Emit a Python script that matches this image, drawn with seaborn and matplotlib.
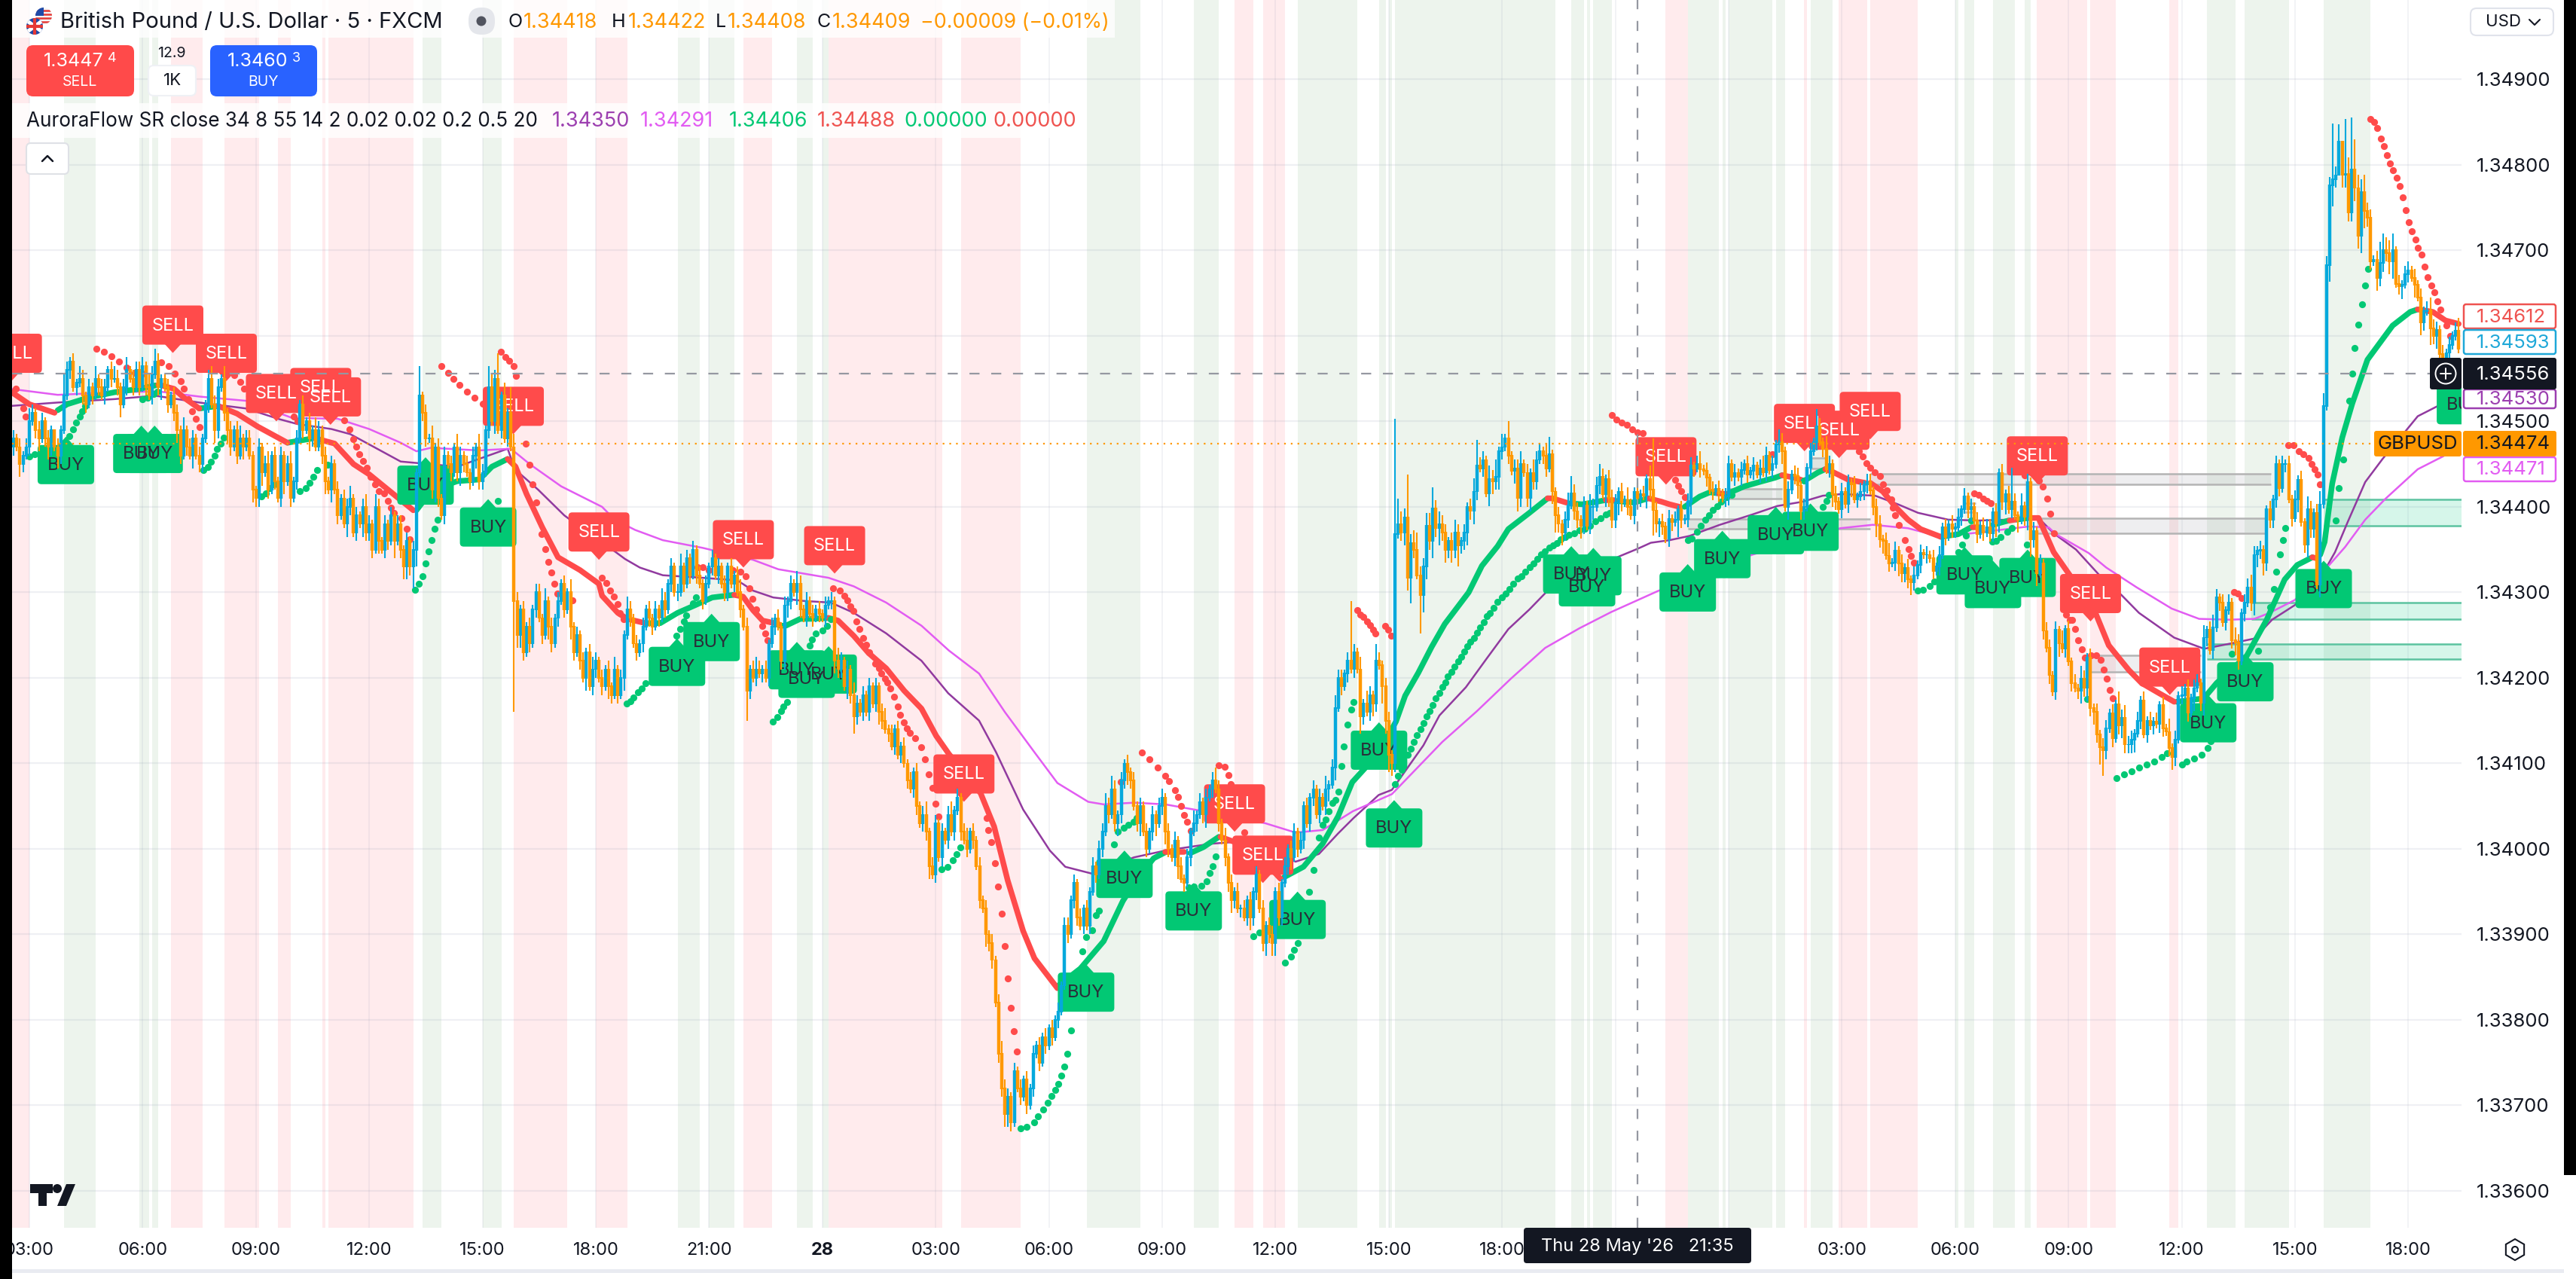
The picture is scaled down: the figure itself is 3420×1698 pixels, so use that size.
import numpy as np
import pandas as pd
import matplotlib
matplotlib.use("Agg")
import matplotlib.pyplot as plt
import seaborn as sns
from matplotlib.patches import FancyBboxPatch, Polygon, Circle, Rectangle, RegularPolygon
from matplotlib.transforms import IdentityTransform

# GBPUSD 5-minute session: prices are in pips above 1.30000, x positions in bars from 03:00 on the 27th.
CLOSE_ROWS = [
 [448,447,445,446,447],
 [450,451,449,448,450,448,447,449,447,446,449,453,456,457,454,454.5,455,453,452,454,453,455,454,453,454,456,455,455,454,452,454,456,455,454,456,454],
 [456.5,454,453,455.5,457,454,455,454,452,453,451,449,446,449,447,446,448,446,445,448,452,455,452,449,454,455,451,449,447,449,446,448,447,448,446,442],
 [441,447,444,445,442,446,443,441,446,443,445,441,443,448,452,449,450,448,449,447,449,446,443,442,445,442,439,441,438,440,441,437,439,438,440,437],
 [438,435,440,436,435,438,436,439,436,438,435,433,436,433,435,444,453,451,448,448,442,447,441,439,446,445,444,447,444,446,445,444,443,446,447,443],
 [444,449,454,450,455,449,453,448,451,447,429,425,428,423,426,424,428,430,427,425,429,426,424,427,429,431,428,430,426,423,425,422,420,423,419,421],
 [422,420,419,421,419,418,421,418,420,425,428,427,424,423,424,426,428,427,426,428,427,429,428,431,433,430,430,433,431,434,432,435,432,431,429,431],
 [433,434,432,433,431,430,433,431,432,430,428,426,418.5,421,420,421,420.5,421,420,424,426,427,426,422,428.5,429,431,430,431,428,427,429,427.5,427,428,427.5],
 [427,428.5,429,429,422,421,422,419,421,418,415.5,417,416,418,416,419,417,419,416,415,414,413.5,412,414,411,412,410,408,407,409,405,403,404,402,398,397],
 [403,399,402,401,404,402,404.5,406,402,401,400,402,401,398,394,393,390,389,387,382,376,372,369,371,368,374,372,371,373,370,372,376,377,375,378,377],
 [379,378,380,381,384,391,390,394,396,392,391,393,391,395,398,397,400,402,405,404,407,403,404,408,410,409,408,405,403,405,402,400,402,404,403,405],
 [406,402,400,399,401,398,396.5,396,399,402,403,404,405.5,404,406,407,408,407,403,401,399,396,394,395,393,393,392,394,392,395,397,393,389,391,390,389],
 [395,392,396,398,400,399,402,400,401,405,403,406,407,404,406,405,407,407.5,409.5,416.5,420,419,420.5,422,421,423,421,415.5,417,416,418,417,422,421.5,419,415],
 [411,410,436.8,438,437,438.8,431.7,435.8,435,432,429.7,433,437.8,436,439.8,437.5,438,437,435,436,435,437,435.5,436,437,440,439.5,441.8,444.8,444.5,445.5,441.6,443.3,443,443.5,446.5],
 [447,448,446,444.2,444.5,441,445,444,441,444,443,445.5,446.5,446,444.5,446.2,441.8,439,438,437,438.5,440.2,441.6,439.5,438.5,437.8,440.2,437.8,440,440,442.5,443.5,441.5,443.3,441,438.5],
 [440.5,441.8,440.5,440.8,440,439,441.8,441,441.5,441.3,443.3,442,439.6,438,438.2,437.7,436.3,438.6,438.2,438.5,439.7,438.5,438.6,440.6,444.8,444.5,445,444.4,444.2,443.4,442,441.8,442.1,441.6,441,441.2],
 [445,443.5,444,443.5,444.3,445,443.8,444.2,444.8,443.8,444.5,444,446,444.3,445,447.3,447.6,446.5,440,442,443.8,443.6,442.5,439.5,440,444.6,446.5,447.6,449.4,447.6,446.8,444.4,445,441.5,440.6,439.7],
 [441.8,440.3,442.8,442.6,440.9,441.2,441.8,442.6,442.9,441.9,440,438,436.2,436,434.3,433.4,433.5,434.9,433.4,432.2,432.9,431.5,431.2,432,433.2,434.6,434.4,434.4,434,432.5,433,434.4,437.6,436.5,438,437.4],
 [437.6,438.8,439.7,441.2,439.7,440,438.4,436.8,437.8,437,437.6,436.9,439.4,438,444,440.6,441.5,439.7,440.6,439,438.5,440.1,438.8,442.9,436.2,437.2,432.2,433.4,425.5,423.5,420.3,418.4,425.6,424,423.4,425.7],
 [421.9,419.4,418.8,418.5,419.9,418.8,422.4,416.5,416,413.4,411.9,411.5,414.1,415.9,412.9,416.9,414.4,415.3,412.2,412.2,412.8,413.5,415,417.4,413.4,415,414.4,414.9,414.6,416.8,414.1,413.7,411.8,410.7,412.8,417.9],
 [418,418.8,415.9,417.6,418.8,419.4,417.1,424.7,425.6,423.2,425.9,429.4,428.8,426.5,427.9,428.8,424.4,424.1,422,427.6,428.8,430.6,428.8,434.4,434.9,435,433.5,439.7,438.5,440.9,445,442.2,445,445,440.9,438.7],
 [440.9,443.2,438.2,435.6,439.7,437.4,439.3,430.9,440.3,451.8,468.3,477.6,478.3,478.8,482.7,478.8,478.9,474.4,479.5,477.3,471.7,476.8,474.6,473.8,468.7,468.9,466.8,468.5,470,469.7,468.7,470,466.1,465.8,466,467.2],
 [467.7,466.8,466,464.5,461.6,462.9,463,460.9,460,460.7,457.9,457.5,458,458.9,460,460.6,458.5],
]
# wick lengths per bar, one base-36 digit per bar, in half pips
WICK_UP = ["21212",
 "321221210215212132121312212321231222","213232112122131221211232213121231221",
 "121231212123121212132121212122312123","213212121221212171213121212132121213",
 "215326131632121212213121212131212123","212121312132121212121321212312121212",
 "121212121231212321212121212132121212","121213212132121212123121212121212312",
 "212123121231212121212322121212121212","121212212121212122323212121212121212",
 "212121212131212123213121212121212122","121212212121212131232212e21313214212",
 "21r632a23422335232212321212362213241","314122312132213411212342212132232122",
 "212132121213c21212121212212312121212","212121212123212132121221212142132121",
 "212121212212212312121212121212121212","121212121222121212821312121212212131",
 "212132121212212132322121212121213121","212122131232121213212232121121212121",
 "212132123322d240d4c73342212543341212","21212123221212123"]
WICK_DOWN = ["21321",
 "212312321321121212212121212123121212","121212312123212131221213212321213113",
 "223121212312121213211231312113212132","221312214123325412212321212123212132",
 "2121312121q3321212121321212132121312","212132121312121212212121212121212121",
 "121212212121721212121212232132121212","121232213242121212321212121212212231",
 "212121212121212132212233211212121212","121211212212121212121232232123121231",
 "232123121212123121212232121232212323","322123121212212123131212121421232143",
 "432123362194324242323252232321213323","212133212322122134232212232123121322",
 "232121212132623212214212321212121212","212121212121212123131232212121212321",
 "212312122123231212322232121212121212","212123121212232231213123423121212312",
 "121232323246212123222312121212212321","212131232121212123212123323222221212",
 "131232213114520332233442213222341231","21313214232112111"]

SHADE_SELL = [(-6,0),(45,55),(62,73),(79,83),(93,94),(95,122),(154,171),(180,190),(227,236),(254,290),(296,315),
              (383,389),(392,399),(520,527),(564,565),(575,584),(585,600),(638,654),(655,663),(680,683)]
SHADE_BUY = [(11,21),(35,38),(39,41),(125,131),(144,145),(145,150),(206,213),(216,224),(244,246),(246,249),(252,254),
             (336,347),(347,353),(370,378),(403,422),(429,431),(432,433),(434,485),(490,494),(495,496),(497,503),
             (527,537),(538,539),(540,554),(555,558),(566,573),(612,613),(615,618),(624,631),(634,636),(692,701),
             (704,718),(729,744)]

TREND_RED = [
 [(-6,453.5),(0,452),(8,451)],
 [(41,454.3),(46,453.8),(49,452.8),(54,451.5)],
 [(60,451.8),(66,450.9),(72.5,449.4),(82,447.5)],
 [(91,448),(97,447.4),(103,445),(108,443.8),(114,442),(122,439.6)],
 [(152,445.6),(154.5,444.7),(158,441.5),(163,437.6),(168,434.1),(175,432.6),(181,431),(182,429.6),(187,427.6),(190,426.9),(195.7,426.4)],
 [(224,429.7),(226.8,429.5),(230,427.9),(233,426.7),(238,426.3)],
 [(254,427),(257,426.7),(262,424.9),(266.7,422.9),(272.3,421.1),(278,418.5),(283.5,416.4),(288.2,413.2),(292.2,411.1),(302.3,406.5),(306.6,402.6),(310.9,396.3),(315.8,390.4),(319.4,387.2),(326.7,383.7)],
 [(361,399.6),(367,399.6)],
 [(378.5,401.4),(383,400.8),(390,399.5),(397.6,396.5)],
 [(482.5,441),(484,441),(488.4,440.5)],
 [(501,440.8),(503.5,440.8)],
 [(514.5,441),(518.7,440.6),(521.2,440.3),(524.4,440)],
 [(536.4,441.6),(539.1,441.5)],
 [(557,443.7),(561,443.4),(563.5,443.1)],
 [(570.7,444.4),(573,444.1),(577.9,443.2),(583.4,442.8)],
 [(585,442.8),(589,441.8),(593,440),(597,438.5),(601,437.4),(607.4,436.5)],
 [(617.5,437.6),(620,437.6)],
 [(629.3,438.4),(631,438.5)],
 [(636,438.7),(638.5,438.7),(643.3,434.7),(648.8,431.8),(656.8,427.4),(660.8,423.8),(667.2,420.9),(671.2,419.4),(676.8,418.2),(681.6,417.2)],
 [(725.5,434.1),(726.7,434)],
 [(759,463.1),(763.8,462.8),(767.8,461.8),(772,461.4)],
]
TREND_GREEN = [
 [(9,451.3),(12,452),(19,452.8),(27,453.4),(35,453.8),(40,454.2)],
 [(54,451.5),(60,451.8)],
 [(82,447.5),(90,448)],
 [(123,439.6),(128,442),(136,443),(143,443.2),(147,444.7),(152,445.6)],
 [(195.7,426.4),(200.5,426.4),(206,427.6),(211.6,428.5),(217,429.4),(223.6,429.7)],
 [(238.5,426.1),(240.4,426.1),(245,426.9),(248.3,426.9),(254,427)],
 [(327,384),(334,386),(341.4,389.2),(347.5,393.9),(352,396.5),(357.3,398.9),(361,399.6)],
 [(368.9,399.5),(373.1,400.2),(378,401.4)],
 [(398.8,396.7),(404.9,397.9),(411,400.6),(415.9,403.8),(420.4,407.8),(424.6,409.5),(430,412),(434.3,414.9),(437.2,417.9),(441.4,420.6),(445.6,423.6),(449.8,426.3),(457.4,430),(461.6,433.1),(466.6,435.4),(470,437.4),(476.7,439.3),(482.5,441)],
 [(489.3,440.4),(493.5,440.3),(496.8,440.5),(501,440.8)],
 [(503.8,440.7),(510,440.5),(514.5,441)],
 [(526,440),(530.8,441.2),(534,441.7),(536.4,441.6)],
 [(540,441.6),(545,442.4),(550.7,443),(554.7,443.4),(557,443.7)],
 [(564.3,443.1),(568.3,444),(570.7,444.4)],
 [(607.4,436.5),(613,436.8),(617,437.6)],
 [(624,437.9),(629,438.4)],
 [(631.4,438.5),(635.3,438.7)],
 [(682.4,417.2),(691,417.6),(695.1,419.4),(704.7,422.6),(711,426.8),(716.7,431.5),(720.7,433.2),(725.5,434.1)],
 [(728,434.4),(729.4,435.9),(731.8,442.7),(735,448.1),(738.2,452.1),(743,457.2),(751,461.2),(756.6,462.8),(759,463.1)],
]

EMA_SLOW = [(-6,451.8),(9,452.2),(27,452.6),(40,453),(54,452.2),(69,451.5),(79,450.3),(85,449.7),(96,449.1),(102,448.5),(118,445.3),(136,444.7),(152,446.8),(154.3,444.4),(161.7,442),(170,439),(181,436),(186,434.8),(189.3,433.9),(194,432.9),(201.3,432),(214,431.7),(225,431.4),(230,430.2),(236.4,429.4),(246,429),(254.7,428.8),(262,427.6),(272.3,425.2),(283.5,422),(292,418.2),(301.8,415),(307.2,411.3),(315.8,404.6),(324.3,399.8),(329.2,397.9),(337.7,397.1),(351,399),(361,399.8),(375.6,400.6),(383,400.8),(392,400),(402.4,398.5),(409.8,399.4),(415.9,401.8),(420.8,403.6),(428.8,406.3),(433,406.9),(443,412.1),(448.1,415.6),(456.5,418.9),(463.2,422.3),(470,425.7),(476.7,428),(482.5,430.2),(505.2,434.2),(511.1,435.1),(515.3,435.8),(521.2,436.1),(527.6,436.6),(537.2,437.9),(547.5,439.1),(555.5,440.1),(563.5,440.6),(569.9,441.3),(576,441.5),(586.6,441.3),(593.8,440.3),(600.2,439.3),(609.8,438.5),(619.4,438.4),(629,438.5),(638.5,438.7),(643.3,436.9),(650.4,435),(657.6,432.1),(664.8,429.7),(670.4,427.6),(681.6,424.7),(691.1,423.4),(700.7,424.1),(707.1,424.6),(712.7,426.8),(719.9,428.5),(727,431),(732.7,434.7),(736.7,438.2),(742.3,442.9),(747.8,445.6),(755,448.8),(759,450.6),(765.4,451.8),(772,453)]
EMA_TREND = [(-6,453.8),(9,453.1),(27,453.4),(41,453.5),(54,452.9),(69,452.4),(83.5,450.4),(98,450.3),(108,449.1),(118,447.5),(123,446.5),(127.5,446.9),(143,446.6),(153,446.8),(159,445),(169,442.4),(182,440),(186,438.5),(192.5,437.3),(201.3,436.1),(214,435.2),(230,433.8),(238,432.7),(254,431.7),(262,430.7),(272.3,428.8),(283.5,426.1),(292.2,423.2),(301.8,420.5),(310,416),(319.4,411.3),(326.7,407.7),(336.5,405.5),(341.4,405.2),(351.2,405.4),(361,405.2),(373.1,404.4),(392.7,403),(402.4,401.9),(411,402.2),(420.6,404.4),(433,406.4),(449,412.5),(460,416.1),(470.8,419.9),(481.7,423.5),(492.6,425.8),(502.7,427.7),(517.8,430.2),(547.5,434.4),(575.5,437.5),(585.8,437.9),(597,437.5),(607.4,436.5),(619.4,437),(635.3,437.7),(641.7,437.6),(644,436.8),(654.4,434.6),(660,432.9),(669.6,430.6),(680.8,428.1),(689.5,426.9),(699.1,426.8),(707.1,426.9),(711.9,427.6),(719.9,429.1),(728,432),(735.9,435.3),(742.3,438.5),(748.6,440.9),(759,444.4),(767,445.9),(772,447.1)]

SAR_RED = [(-4.4,453.8),(-2,451.5),(-1.3,450.6),(21.2,458.5),(23.7,458.1),(26,457.6),(28.6,457),(31,456.3),(33.5,455.7),(35.9,455.6),(42,456.9),(44.4,456.5),(46.3,455.6),(48,454.7),(49,453.8),(50.5,452.6),(51.8,451.2),(53,450.3),(54,449.3),(65.2,455.4),(67,454.6),(68.3,453.8),(70,452.9),(72,452),(84,450.6),(85.3,450),(100,450.1),(101.8,449.1),(103,447.9),(104,447),(104.9,446.2),(106,445.4),(107.3,444.6),(108.5,443.5),(109.8,442.6),(111,441.8),(112.8,441.6),(114,440.7),(115,439.9),(115.9,439.3),(118.3,438.7),(119.9,437.4),(120.9,436.2),(131,456.5),(133,455.7),(134.8,455),(136.6,454.3),(139,453.5),(141.5,452.8),(144,452.1),(149.8,458.1),(151.3,457.5),(152.5,457.1),(154,456.5),(154.7,455.3),(157.8,447.4),(159,444.9),(160,442.6),(161,440.5),(162.8,436.8),(164,435.1),(165,433.6),(166,432.3),(166.8,431),(167.8,429.9),(170,429.3),(172.7,429.1),(182,431.7),(183.3,431.1),(184.5,430.2),(185.7,429.5),(186.9,428.6),(187.7,427.6),(188.9,426.9),(212.4,432.9),(214,432.9),(216,432.6),(223.6,432.6),(226,432.4),(227.7,431.9),(228.8,430.5),(229.7,429.2),(231,428),(232.8,426.1),(233.8,425.2),(234.6,424.4),(255.5,430.5),(257.5,430.2),(258.9,429.6),(259.9,429.1),(261,428.4),(261.8,427.8),(262.9,426.6),(263.9,425.7),(265,424.7),(265.9,423.9),(266.9,423),(268.7,421.7),(269.9,421.1),(270.8,420.5),(271.9,419.9),(272.7,419.5),(273.7,418.8),(274.9,417.8),(275.9,416.6),(276.8,415.7),(277.9,414.8),(278.8,414.1),(279.9,413.6),(281.5,412.9),(283.5,411.9),(284.6,410.5),(285.8,408.7),(287,407.1),(287.9,405.3),(288.9,403.8),(304.2,403.6),(304.8,402.2),(305.7,400.8),(306.8,398.3),(307.9,395.6),(309,392.4),(309.9,388.6),(310.9,384.8),(311.8,381.4),(312.8,378.7),(313.9,376.3),(346.9,407.8),(353.6,411.3),(356,410.5),(358.5,409.5),(360.9,408.5),(362.1,407.9),(364,406.9),(365,406.1),(366,405),(367,404),(368,403.2),(369,402.1),(378,409.8),(379.9,409.6),(381.1,408.6),(381.9,407.6),(386,401.9),(421.9,427.9),(422.9,427.4),(424,427.1),(425,426.6),(426,426.2),(427,425.6),(427.8,425.2),(430.9,426.1),(431.9,425.6),(432.8,424.9),(502.9,450.7),(504.4,450.2),(506,449.9),(507.7,449.6),(509.4,449.1),(511,448.7),(512.8,448.6),(523,443.2),(523.9,442.5),(525,441.8),(526,441.1),(553.8,446.2),(581.4,446.5),(582.6,445.9),(583.8,445.1),(585,444.6),(586.5,444),(588,443.6),(589,442.6),(590.2,441.9),(591.8,440.9),(592.2,439.9),(593,439),(594,437.9),(596,436.1),(597.2,435.1),(598,434.3),(598.9,433.5),(618,441.6),(619.4,441.4),(621,441),(622.2,440.7),(623.4,440.4),(634.1,443.7),(638.5,443.1),(639.9,442.4),(641.2,441),(642.1,439.2),(643.3,436.9),(647.2,427.4),(648.4,426.8),(649.2,426.8),(650.1,425.7),(651,424.4),(652.2,423.3),(653.2,422.4),(655.2,422.6),(656.8,422.6),(658.2,422.1),(659.2,421),(660.1,419.9),(661.1,418.6),(662,417.6),(700.7,430),(701.9,429.9),(703,429.3),(717.9,447.2),(719.5,447.2),(721.1,446.5),(722.7,446.2),(724.3,445.7),(725.3,445),(726.3,444.4),(727.2,443.8),(727.9,442.6),(744,485.4),(745.2,485),(746,484.3),(747.2,483.1),(748.2,482.2),(749.2,481.1),(750.1,480.2),(751.2,479.4),(752.3,478.5),(753.2,477.5),(754.2,476.2),(755.1,474.7),(756.1,473.3),(757,472.2),(758.2,471.3),(759.1,470.3),(760.2,469.5),(761.1,468.1),(762.1,466.9),(763.3,465.9),(764.2,465.1),(765.2,464),(766.2,463.1),(768.2,461.2),(769.2,460)]
SAR_GREEN = [(0,445.9),(1.7,446.2),(12.7,448.3),(14,449.1),(14.8,449.9),(16,450.6),(16.7,451.2),(17.8,451.8),(35.9,452.6),(37.7,452.8),(39.6,453.2),(40.8,453.5),(55.2,444.3),(56.7,444.7),(57.6,445.3),(58.9,446),(59.7,446.8),(60.9,447.4),(61.8,448.1),(73.7,441.2),(75.2,441.6),(76.4,442.2),(77.7,442.6),(86,441.8),(87.8,442.2),(89,442.8),(90.2,443.5),(91.5,444.3),(94.8,444.9),(122.6,430.3),(123.8,431),(125,431.9),(125.9,433.4),(126.9,434.8),(127.8,436.1),(128.7,437.4),(129.7,438.5),(148.8,440.7),(189.7,417),(190.9,417.3),(192,417.7),(193.3,418.3),(194.5,418.8),(195.7,419.4),(205.6,424.9),(206.7,425.7),(207.9,426.6),(208.8,427.3),(210.8,428.7),(211.8,429.4),(236.2,414.9),(237.6,415.4),(238.8,416.1),(239.7,416.6),(240.8,417.2),(248,423.8),(248.7,424.5),(250,425.2),(252,425.5),(253.5,426.1),(254.7,426.9),(289.9,397.6),(291.9,397.9),(293.5,398.7),(294.6,399.4),(295.8,400.2),(315.1,367.3),(317,367.5),(319.4,368),(320.6,368.7),(322.1,369.5),(323.7,370.3),(324.9,371.1),(326,371.8),(327,372.5),(328,373.5),(329,374.5),(329.8,376),(331,378.8),(334.7,388),(335.9,389.7),(337.7,390.5),(339,392.2),(339.9,392.8),(344.8,400.5),(345.9,402),(347.7,402.5),(349.3,402.8),(350.8,403.2),(351.8,403.6),(368.3,395.5),(370,395.6),(372.5,395.7),(374.1,396.2),(375.2,397.2),(376,398),(377,399.1),(389,389.8),(390.8,390.2),(399,386.7),(400.9,387.4),(401.8,388.2),(403,389),(406.7,395),(408,397.5),(409.8,401.3),(411,402.8),(412,403.4),(412.8,404.4),(414,405.4),(415,405.7),(416,406.7),(416.9,409.7),(417.7,412),(419,414.5),(420,416.3),(420.8,417.2),(433.9,407.6),(434.9,408.5),(436.2,409.2),(438,411),(438.9,411.7),(439.9,412.5),(440.8,413.3),(442.1,414),(443.1,414.7),(443.9,415.5),(444.9,416.1),(445.9,416.8),(447,417.6),(448,418.2),(449,418.9),(450,419.5),(450.8,420.2),(451.9,420.7),(452.9,421.3),(454,421.9),(455,422.5),(455.9,423.1),(456.9,423.7),(458,424.2),(459,424.7),(460.1,425.3),(461.1,425.9),(462.1,426.5),(463.2,427.2),(464.2,427.6),(465.3,428.2),(466.6,428.9),(467.9,429.4),(469.1,429.9),(470.4,430.4),(471.6,431),(472.9,431.6),(474.2,431.9),(475.4,432.4),(476.7,432.9),(477.9,433.4),(479.2,433.9),(480.5,434.4),(481.7,434.8),(483,435.2),(484.2,435.5),(485.5,435.8),(486.7,436.2),(488,436.5),(489.3,436.7),(491,436.9),(492.6,437.3),(494.3,437.4),(496,437.8),(497.7,438.3),(499.3,438.7),(501,439.1),(502.3,439.3),(527,436.1),(528.3,436.3),(530,437.1),(531.2,437.8),(532.5,438.5),(533.8,439),(535,439.6),(536.3,440.1),(537.5,440.6),(539.2,441.1),(540.9,441.4),(564,443.1),(569.9,440),(571,440.7),(571.9,441.4),(600.2,430.2),(601.8,430.3),(603.8,430.7),(605.4,431.3),(613,434.7),(614.2,435.6),(615.4,436.6),(617,438.4),(623.7,435.9),(624.9,436),(626.5,436.5),(628.5,437.1),(630.1,437.5),(634.9,435.6),(654,417.5),(663.2,408.3),(665.6,408.7),(668,409.1),(670.4,409.5),(672.8,409.9),(675.2,410.2),(677.6,410.7),(679.2,411.2),(684,409.9),(685.6,410.2),(688,410.6),(690.3,411),(692.2,411.8),(693.1,412.6),(699.9,422.8),(708.3,423.2),(712,428.3),(713.2,430.4),(714.1,432.4),(715.2,434.4),(716.1,436.1),(717,437.5),(733,438.4),(734,442.2),(735.3,445.5),(737.2,452.4),(738.2,455.6),(739,458.6),(740.1,461.3),(741.2,463.7),(742.2,465.9),(743.2,467.8)]

SELL_SIGNALS = [(-5.7,454.7),(45.6,458),(62.6,454.7),(78.5,450),(92.6,450.7),(95.7,449.6),(153.8,448.5),(181,433.8),(226.9,432.9),(255.9,432.2),(297,405.5),(383,402),(392,396),(520.1,442.6),(564.1,446.5),(575.1,445.7),(585,447.9),(638.1,442.7),(655,426.6),(680.2,418)]
BUY_SIGNALS = [(11.6,448.2),(35.6,449.5),(39.8,449.5),(125.9,445.8),(145.8,440.9),(205.8,424.6),(216.8,427.5),(243.9,424.2),(247,423.2),(254,423.7),(335.8,386.5),(348,399.8),(370,396),(403,395),(433.7,405.7),(428.9,414.8),(490,435.4),(495,433.9),(497,435.2),(527,433.3),(538,437.2),(555,440),(566,440.4),(615,435.3),(624,433.7),(635,435),(692.4,418),(704.2,422.8),(729.1,433.7),(774,455.2)]

# support and resistance zones: first bar, last bar, upper and lower pip level
ZONES_GREY = [(540,557,442.1,441),(527,585,438.6,437.4),(566,571,445.7,444.5),(585,712.4,443.9,442.6),(638,710.6,438.7,436.9),(655,690,422.6,420.7),(615,618.5,440.4,439.4)]
ZONES_GREEN = [(729,773,440.9,437.8),(706,773,428.8,426.9),(692,773,424,422.2)]

PRICE_TICKS = [1.336,1.337,1.338,1.339,1.340,1.341,1.342,1.343,1.344,1.345,1.346,1.347,1.348,1.349]
TIME_TICKS = [0,36,72,108,144,180,216,252,288,324,360,396,432,468,504,540,576,612,648,684,720,756]
TIME_LABELS = ["03:00","06:00","09:00","12:00","15:00","18:00","21:00","28","03:00","06:00","09:00","12:00","15:00","18:00","21:00","29","03:00","06:00","09:00","12:00","15:00","18:00"]
LAST_PRICE = 1.34474
CROSS_PRICE = 1.34556
CROSS_BAR = 511

W, H = 3420, 1698
UP, DOWN = "#05A9DC", "#FF9800"
RED, GREEN = "#FF4B4B", "#02C874"
PURPLE, MAGENTA = "#913A9F", "#E25CF2"
INK = "#131722"

sns.set_theme(style="white")
plt.rcParams["font.family"] = ["Inter", "DejaVu Sans"]

def price(p):
    return 1.30 + np.asarray(p, dtype=float) / 1e4

close = np.array([v for row in CLOSE_ROWS for v in row], dtype=float)
open_ = np.r_[447.0, close[:-1]]
up_w = np.array([int(c, 36) for c in "".join(WICK_UP)][:len(close)]) * 0.5
dn_w = np.array([int(c, 36) for c in "".join(WICK_DOWN)][:len(close)]) * 0.5
candles = pd.DataFrame({"bar": np.arange(-5, len(close) - 5), "open": open_, "close": close})
candles["high"] = candles[["open", "close"]].max(axis=1) + up_w
candles["low"] = candles[["open", "close"]].min(axis=1) - dn_w
candles["rising"] = candles["close"] >= candles["open"]

fig = plt.figure(figsize=(W / 100, H / 100), dpi=100, facecolor="white")
ax = fig.add_axes([16 / W, (H - 1630) / H, (3268 - 16) / W, 1630 / H])
ax.set_facecolor("white")
ax.set_xlim(-5.5, 772.9)
ax.set_ylim(1.335568, 1.349928)
for s in ax.spines.values():
    s.set_visible(False)

# session shading behind everything else
for a, b in SHADE_SELL:
    ax.axvspan(a, b, color="#FFEBED", lw=0, zorder=0.2)
for a, b in SHADE_BUY:
    ax.axvspan(a, b, color="#EDF4ED", lw=0, zorder=0.2)

ax.set_xticks(TIME_TICKS)
ax.set_xticklabels(TIME_LABELS)
ax.set_yticks(PRICE_TICKS)
ax.set_yticklabels([f"{p:.5f}" for p in PRICE_TICKS])
ax.yaxis.tick_right()
ax.tick_params(axis="both", length=0, labelcolor=INK)
ax.tick_params(axis="x", pad=14, labelsize=17)
ax.tick_params(axis="y", pad=14, labelsize=18.5)
ax.get_xticklabels()[TIME_LABELS.index("28")].set_fontweight("bold")

# faint chart grid, below the shading so the bands tint it
for tick in PRICE_TICKS:
    ax.axhline(tick, color="#737F9E", alpha=0.11, lw=1.6, zorder=0.3)
for tick in TIME_TICKS:
    ax.axvline(tick, color="#737F9E", alpha=0.09, lw=1.4, zorder=0.3)

# support / resistance zones
for a, b, top, bot in ZONES_GREY:
    ax.add_patch(Rectangle((a, price(bot)), b - a, price(top) - price(bot), fc=(0.5, 0.5, 0.55, 0.13), lw=0, zorder=1))
    ax.hlines(price([top, bot]), a, b, color="#B4B4B4", lw=1.8, zorder=1.1)
for a, b, top, bot in ZONES_GREEN:
    ax.add_patch(Rectangle((a, price(bot)), b - a, price(top) - price(bot), fc=(0.0, 0.78, 0.5, 0.16), lw=0, zorder=1))
    ax.hlines(price([top, bot]), a, b, color="#5CC3A0", lw=1.8, zorder=1.1)

# slow averages
for series, colour in ((EMA_SLOW, PURPLE), (EMA_TREND, MAGENTA)):
    frame = pd.DataFrame(series, columns=["bar", "pips"])
    frame["price"] = price(frame["pips"])
    sns.lineplot(data=frame, x="bar", y="price", color=colour, lw=1.8, sort=False, estimator=None, ax=ax, zorder=2)

# adaptive trend line, coloured by regime
for segments, colour in ((TREND_GREEN, GREEN), (TREND_RED, RED)):
    for seg in segments:
        frame = pd.DataFrame(seg, columns=["bar", "pips"])
        frame["price"] = price(frame["pips"])
        line = sns.lineplot(data=frame, x="bar", y="price", color=colour, lw=5.4, sort=False, estimator=None, ax=ax, zorder=3)
        line.lines[-1].set_solid_capstyle("round")

# parabolic stop dots
for series, colour in ((SAR_GREEN, GREEN), (SAR_RED, RED)):
    frame = pd.DataFrame(series, columns=["bar", "pips"])
    frame["price"] = price(frame["pips"])
    sns.scatterplot(data=frame, x="bar", y="price", color=colour, s=44, linewidth=0, ax=ax, zorder=4, legend=False)
ax.set_xlabel("")
ax.set_ylabel("")

# signal bubbles anchored to the bar they fired on
fig.canvas.draw()
id_tr = IdentityTransform()
def bubble(bar, pips, sell):
    x, y = ax.transData.transform((bar, price(pips)))
    w, h, tail = (81, 52, 11) if sell else (75, 52, 11)
    colour = RED if sell else GREEN
    if sell:
        y0 = y + tail
        tri = [(x - 11, y0 + 1), (x + 11, y0 + 1), (x, y)]
    else:
        y0 = y - tail - h
        tri = [(x - 11, y0 + h - 1), (x + 11, y0 + h - 1), (x, y)]
    r = 5
    ax.add_artist(FancyBboxPatch((x - w / 2 + r, y0 + r), w - 2 * r, h - 2 * r, boxstyle=f"round,pad={r},rounding_size={r}",
                                 fc=colour, ec="none", transform=id_tr, zorder=5))
    ax.add_artist(Polygon(tri, closed=True, fc=colour, ec="none", transform=id_tr, zorder=5))
    ax.text(x, y0 + h / 2 - 1, "SELL" if sell else "BUY", transform=id_tr, ha="center", va="center", fontsize=17,
            color="white" if sell else "#2A2E39", zorder=5.1, clip_on=True)
for b, p in BUY_SIGNALS:
    bubble(b, p, False)
for b, p in SELL_SIGNALS:
    bubble(b, p, True)

# candles over the markers
for rising, colour in ((True, UP), (False, DOWN)):
    part = candles[candles["rising"] == rising]
    ax.vlines(part["bar"], price(part["low"]), price(part["high"]), color=colour, lw=1.5, zorder=6)
    top = part[["open", "close"]].max(axis=1) + 0.08
    bottom = part[["open", "close"]].min(axis=1) - 0.08
    ax.vlines(part["bar"], price(bottom), price(top), color=colour, lw=3.2, zorder=6)

# last price and crosshair guides
ax.axhline(LAST_PRICE, color="#FF9800", lw=1.6, ls=(0, (1, 3)), zorder=7)
ax.axhline(CROSS_PRICE, color="#9598A1", lw=1.6, ls=(0, (6, 7)), zorder=7)
ax.axvline(CROSS_BAR, color="#9598A1", lw=1.6, ls=(0, (6, 7)), zorder=7)

# chrome around the pane, in image pixels measured from the top left
def frect(x0, y0, x1, y1, fc="white", ec="none", lw=0, r=0, z=10, alpha=None):
    if r:
        art = FancyBboxPatch((x0 + r, H - y1 + r), x1 - x0 - 2 * r, y1 - y0 - 2 * r, boxstyle=f"round,pad={r},rounding_size={r}",
                             fc=fc, ec=ec, lw=lw, transform=id_tr, zorder=z, alpha=alpha)
    else:
        art = Rectangle((x0, H - y1), x1 - x0, y1 - y0, fc=fc, ec=ec, lw=lw, transform=id_tr, zorder=z, alpha=alpha)
    fig.add_artist(art)

def ftext(x, y, s, size=18.5, color=INK, ha="left", weight="normal", z=12):
    fig.text(x, H - y, s, transform=id_tr, fontsize=size, color=color, ha=ha, va="center", fontweight=weight, zorder=z)

frect(0, 0, 16, H, fc="black", z=30)
frect(3404, 0, W, 1560, fc="black", z=30)
frect(16, 1685, 3404, 1690, fc="#E9EBF1", z=9)

# legend rows
frect(16, 0, 1480, 50, fc="white", alpha=0.82, z=9)
frect(16, 137, 1428, 183, fc="white", alpha=0.82, z=9)

uk = Circle((46, H - 35), 11, fc="#1F4AA8", ec="none", transform=id_tr, zorder=12)
fig.add_artist(uk)
for (a, b), c, lw in (((35, 57), "white", 3.6), ((57, 35), "white", 3.6)):
    art = plt.Line2D([a, b], [H - 27, H - 43], color=c, lw=lw, transform=id_tr, zorder=13)
    fig.add_artist(art)
    art.set_clip_path(uk)
art = plt.Line2D([46, 46], [H - 24, H - 46], color="#E53935", lw=3, transform=id_tr, zorder=14); fig.add_artist(art); art.set_clip_path(uk)
art = plt.Line2D([35, 57], [H - 35, H - 35], color="#E53935", lw=3, transform=id_tr, zorder=14); fig.add_artist(art); art.set_clip_path(uk)
us = Circle((58, H - 21), 11, fc="#F5F5F5", ec="none", transform=id_tr, zorder=11)
fig.add_artist(us)
for yy in (14, 19, 24, 29):
    art = plt.Line2D([47, 69], [H - yy, H - yy], color="#E53935", lw=1.8, transform=id_tr, zorder=11.5); fig.add_artist(art); art.set_clip_path(us)
usq = Rectangle((47, H - 21), 11, 11, fc="#1F4AA8", ec="none", transform=id_tr, zorder=11.6)
fig.add_artist(usq)
usq.set_clip_path(us)

ftext(80, 30, "British Pound / U.S. Dollar · 5 · FXCM", size=21)
frect(622, 10, 657, 46, fc="#E4E6EB", r=17, z=11)
fig.add_artist(Circle((639, H - 28), 6.5, fc="#50535E", ec="none", transform=id_tr, zorder=12))
for x, k, xv, v in ((674, "O", 695, "1.34418"), (812, "H", 834, "1.34422"), (950, "L", 966, "1.34408"), (1085, "C", 1105, "1.34409")):
    ftext(x, 30, k, size=18)
    ftext(xv, 30, v, size=19.5, color="#FF9800")
ftext(1222, 30, "−0.00009 (−0.01%)", size=19.3, color="#FF9800")

frect(35, 60, 178, 128, fc="#FF4A4A", r=9, z=12)
ftext(58, 81, "1.3447", size=18, color="white", z=13)
ftext(143, 78, "4", size=13, color="white", z=13)
ftext(106, 109, "SELL", size=14, color="white", ha="center", z=13)
ftext(228, 71, "12.9", size=14, ha="center", z=13)
frect(197, 87, 260, 127, fc="white", ec="#EFF1F5", lw=1.5, r=7, z=12)
ftext(229, 107, "1K", size=16, ha="center", z=13)
frect(279, 60, 421, 128, fc="#2962FF", r=9, z=12)
ftext(302, 81, "1.3460", size=18, color="white", z=13)
ftext(388, 78, "3", size=13, color="white", z=13)
ftext(349, 109, "BUY", size=14, color="white", ha="center", z=13)

ftext(35, 161, "AuroraFlow SR close 34 8 55 14 2 0.02 0.02 0.2 0.5 20", size=18.8)
for x, v, c in ((733, "1.34350", "#9C3FB0"), (850, "1.34291", "#E25CF2"), (968, "1.34406", "#02C874"),
                (1085, "1.34488", "#EF5350"), (1200, "0.00000", "#02C874"), (1318, "0.00000", "#EF5350")):
    ftext(x, 161, v, size=19.5, color=c)
frect(35, 190, 91, 231, fc="white", ec="#DFE1E6", lw=1.5, r=6, z=12)
fig.add_artist(plt.Line2D([56, 63, 70], [H - 214, H - 207, H - 214], color=INK, lw=1.8, transform=id_tr, zorder=13))

# scale selector and axis flags
frect(3280, 11, 3390, 47, fc="white", ec="#E0E3EB", lw=1.5, r=8, z=12)
ftext(3300, 29, "USD", size=16, z=13)
fig.add_artist(plt.Line2D([3358, 3365, 3372], [H - 26, H - 33, H - 26], color=INK, lw=1.5, transform=id_tr, zorder=13))

def flag(y0, y1, text, edge, fill="white", tc=None):
    frect(3271, y0, 3393, y1, fc=fill, ec=edge, lw=1.8, r=3, z=14)
    ftext(3288, (y0 + y1) / 2 + 1, text, color=tc or edge, z=15)

flag(517, 542, "1.34530", "#9C3FB0")
flag(404, 436, "1.34612", "#EF5350")
flag(438, 470, "1.34593", "#1FA8D8")
flag(607, 639, "1.34471", "#E25CF2")
frect(3270, 572, 3394, 606, fc="#FF9800", r=3, z=14)
ftext(3288, 590, "1.34474", color=INK, z=15)
frect(3152, 572, 3268, 606, fc="#FF9800", r=3, z=14)
ftext(3210, 590, "GBPUSD", color=INK, ha="center", z=15)
frect(3226, 475, 3268, 517, fc=INK, r=3, z=14)
frect(3270, 475, 3394, 517, fc=INK, r=3, z=14)
ftext(3288, 497, "1.34556", color="white", z=15)
fig.add_artist(Circle((3247, H - 496), 13.5, fc="none", ec="white", lw=1.4, transform=id_tr, zorder=15))
fig.add_artist(plt.Line2D([3240, 3254], [H - 496, H - 496], color="white", lw=1.4, transform=id_tr, zorder=15))
fig.add_artist(plt.Line2D([3247, 3247], [H - 489, H - 503], color="white", lw=1.4, transform=id_tr, zorder=15))

# crosshair time flag and settings glyph
frect(2023, 1630, 2325, 1677, fc=INK, r=4, z=14)
ftext(2174, 1655, "Thu 28 May '26   21:35", size=17, color="white", ha="center", z=15)
fig.add_artist(RegularPolygon((3339, H - 1659), 6, radius=14, fc="none", ec=INK, lw=1.5, transform=id_tr, zorder=13))
fig.add_artist(Circle((3339, H - 1659), 4, fc="none", ec=INK, lw=1.5, transform=id_tr, zorder=13))

# broker mark, bottom left
frect(40, 1572, 70, 1584, fc=INK, z=12)
frect(51, 1572, 62, 1601, fc=INK, z=12)
fig.add_artist(Circle((76, H - 1578), 6, fc=INK, ec="none", transform=id_tr, zorder=12))
fig.add_artist(Polygon([(88, H - 1572), (100, H - 1572), (88, H - 1601), (76, H - 1601)], closed=True, fc=INK, ec="none", transform=id_tr, zorder=12))

fig.savefig("out.png", dpi=100, facecolor="white")
